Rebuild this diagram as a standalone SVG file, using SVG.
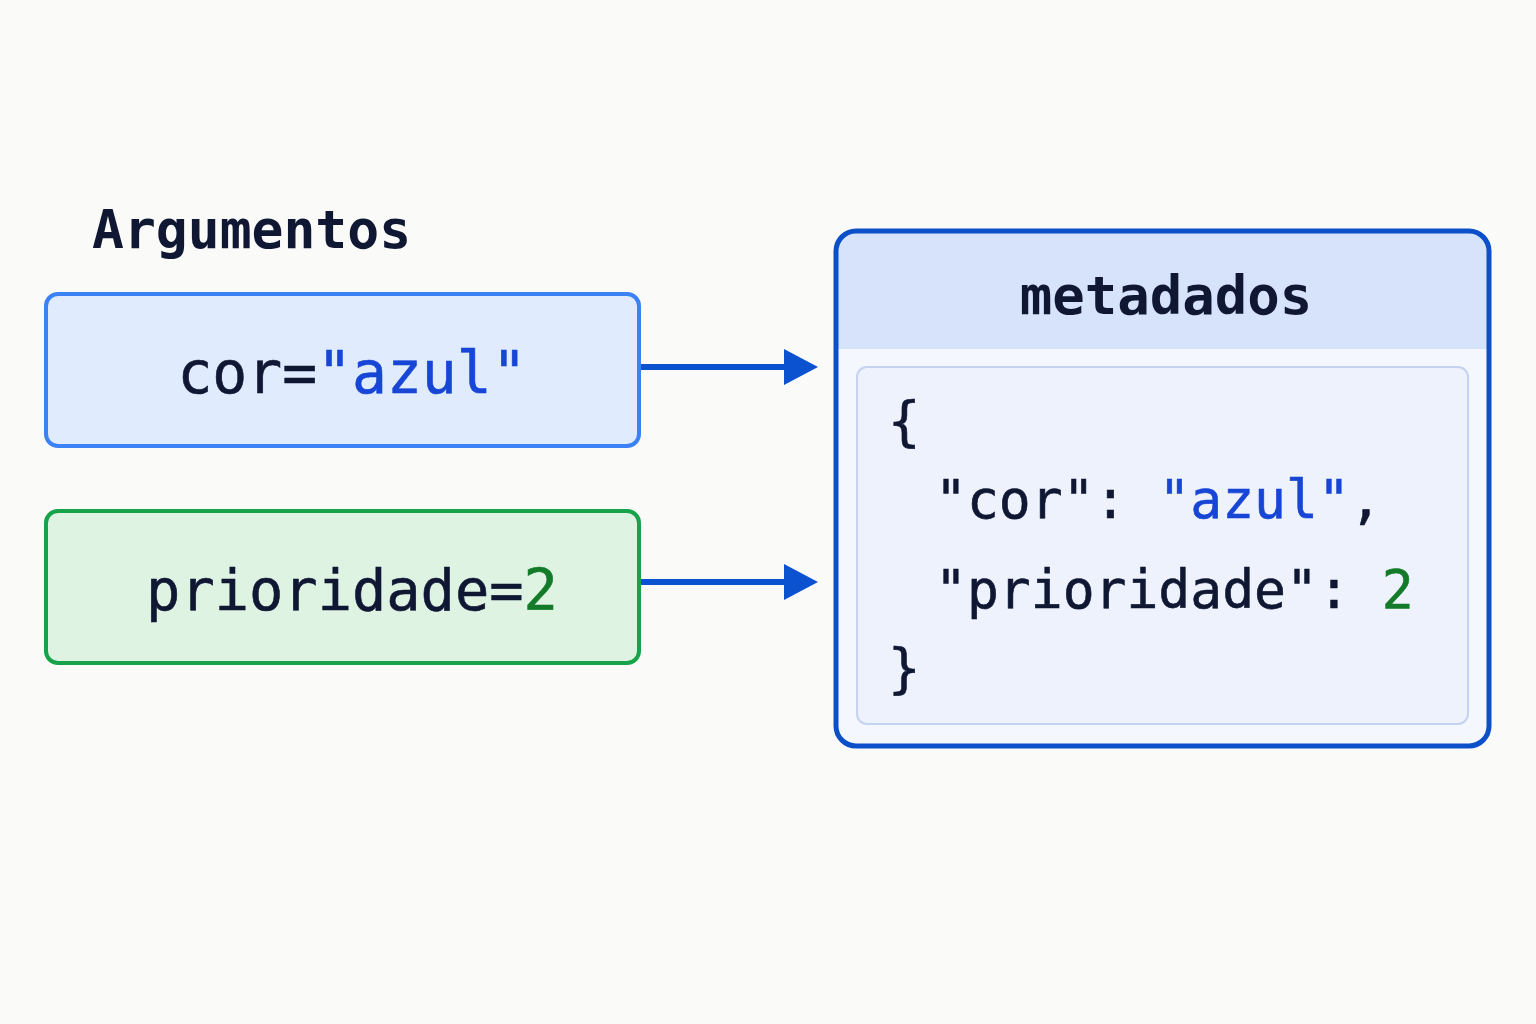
<svg xmlns="http://www.w3.org/2000/svg" width="1536" height="1024" viewBox="0 0 1536 1024">
<defs>
<style>
.m{font-family:"DejaVu Sans Mono","Liberation Mono",monospace;fill:#0f1733}
.s{fill:#1746d6}.n{fill:#137a2a}
</style>
</defs>
<rect width="1536" height="1024" fill="#fafaf8"/>
<text class="m" x="92" y="248" font-size="53" font-weight="bold">Argumentos</text>
<g id="cor">
<rect x="46" y="294" width="593" height="152" rx="12" fill="#e0ecfd" stroke="#3b82f6" stroke-width="4"/>
<text class="m" x="352" y="393" font-size="58" text-anchor="middle" stroke="#0f1733" stroke-width="0.6">cor=<tspan class="s" stroke="#1746d6">"azul"</tspan></text>
</g>
<g id="prioridade">
<rect x="46" y="511" width="593" height="152" rx="12" fill="#dff3e3" stroke="#16a34a" stroke-width="4"/>
<text class="m" x="352" y="610" font-size="57" text-anchor="middle" stroke="#0f1733" stroke-width="0.6">prioridade=<tspan class="n" stroke="#137a2a">2</tspan></text>
</g>
<g id="connectors" stroke="#0b52d1" stroke-width="6">
<line x1="641" y1="367" x2="790" y2="367"/>
<line x1="641" y1="582" x2="790" y2="582"/>
<path d="M784,349L818,367L784,385z" fill="#0b52d1" stroke="none"/>
<path d="M784,564L818,582L784,600z" fill="#0b52d1" stroke="none"/>
</g>
<g id="metadados">
<rect x="836" y="231" width="653" height="515" rx="20" fill="#f4f7fd"/>
<path d="M856,231H1469A20,20 0 0 1 1489,251V349H836V251A20,20 0 0 1 856,231z" fill="#d6e3fb"/>
<rect x="836" y="231" width="653" height="515" rx="20" fill="none" stroke="#0b4fc9" stroke-width="5"/>
<text class="m" x="1166" y="314" font-size="54" font-weight="bold" text-anchor="middle">metadados</text>
<rect x="857" y="367" width="611" height="357" rx="10" fill="#eef2fd" stroke="#c5d3f0" stroke-width="2"/>
<g stroke-width="0.6">
<text class="m" x="888" y="440" font-size="54" stroke="#0f1733">{</text>
<text class="m" x="935" y="518" font-size="53" xml:space="preserve" stroke="#0f1733">"cor": <tspan class="s" stroke="#1746d6">"azul"</tspan>,</text>
<text class="m" x="935" y="608" font-size="53" xml:space="preserve" stroke="#0f1733">"prioridade": <tspan class="n" stroke="#137a2a">2</tspan></text>
<text class="m" x="888" y="687" font-size="54" stroke="#0f1733">}</text>
</g>
</g>
</svg>
